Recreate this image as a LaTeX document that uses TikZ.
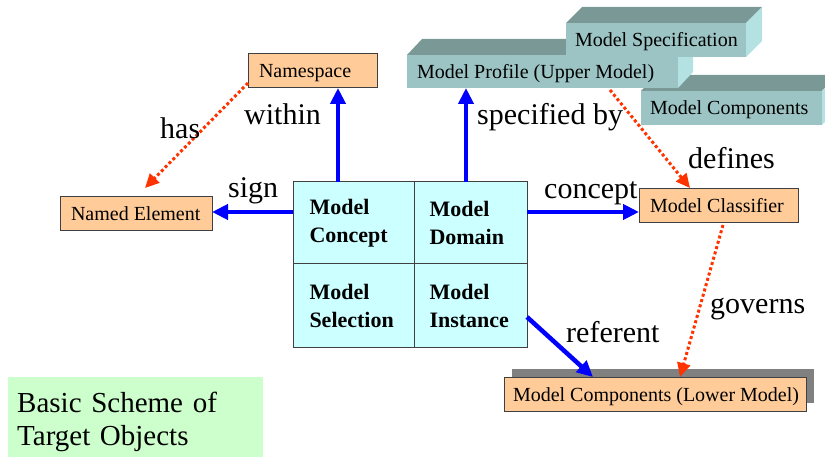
\documentclass[tikz,border=0pt]{standalone}
\usepackage{fontspec}
\setmainfont{Liberation Serif}
\usetikzlibrary{arrows.meta,shadows}

\definecolor{peach}{RGB}{255,204,153}
\definecolor{cellcyan}{RGB}{204,255,255}
\definecolor{mint}{RGB}{204,255,204}
\definecolor{slabfront}{RGB}{156,196,196}
\definecolor{slabtop}{RGB}{122,153,150}
\definecolor{slabside}{RGB}{180,226,226}
\definecolor{linkred}{RGB}{255,51,0}
\definecolor{linkblue}{RGB}{0,0,255}
\definecolor{shadowgray}{RGB}{128,128,128}
\definecolor{edgegray}{RGB}{64,64,64}

\tikzset{
  obox/.style={draw=edgegray, line width=1pt, fill=peach, outer sep=0pt,
    font=\fontsize{20}{24}\selectfont, inner ysep=0pt, anchor=north west,
    text height=14pt, text depth=0pt, minimum height=34pt},
  slab/.style={fill=slabfront, outer sep=0pt, inner xsep=9pt, inner ysep=0pt,
    font=\fontsize{20}{24}\selectfont, anchor=north west,
    text height=14pt, text depth=0pt},
  cell/.style={draw=edgegray, line width=1pt, fill=cellcyan, outer sep=0pt,
    font=\fontsize{22}{28}\selectfont\bfseries, align=left, anchor=north west,
    inner ysep=0pt},
  lbl/.style={font=\fontsize{30}{36}\selectfont, anchor=base west, inner sep=0pt},
  barrow/.style={draw=linkblue, line width=4.5pt,
    -{Triangle[length=16pt,width=15pt]}},
  rarrow/.style={draw=linkred, line width=3pt, dash pattern=on 3pt off 2.5pt,
    -{Triangle[length=14pt,width=13pt]}}
}

\begin{document}
\begin{tikzpicture}[x=1pt,y=-1pt]
\useasboundingbox (0,0) rectangle (825,457);
\clip (0,0) rectangle (825,457);

% stacked model slabs (back to front)
\node[slab, minimum width=181pt, minimum height=34pt] (comp) at (641,91)
  {\makebox[163pt][l]{Model Components}};
\fill[slabtop] (comp.north west) -- ++(15,-16) -- ([shift={(15,-16)}]comp.north east) -- (comp.north east) -- cycle;
\fill[slabside] (comp.north east) -- ([shift={(15,-16)}]comp.north east) -- ([shift={(15,-16)}]comp.south east) -- (comp.south east) -- cycle;

\node[slab, inner xsep=10pt, minimum width=271pt, minimum height=33pt] (prof) at (407,55)
  {\makebox[251pt][l]{Model Profile (Upper Model)}};
\fill[slabtop] (prof.north west) -- ++(15,-16) -- ([shift={(15,-16)}]prof.north east) -- (prof.north east) -- cycle;
\fill[slabside] (prof.north east) -- ([shift={(15,-16)}]prof.north east) -- ([shift={(15,-16)}]prof.south east) -- (prof.south east) -- cycle;

\node[slab, minimum width=180pt, minimum height=34pt] (spec) at (566,23)
  {\makebox[162pt][l]{Model Specification}};
\fill[slabtop] (spec.north west) -- ++(16,-16) -- ([shift={(16,-16)}]spec.north east) -- (spec.north east) -- cycle;
\fill[slabside] (spec.north east) -- ([shift={(16,-16)}]spec.north east) -- ([shift={(16,-16)}]spec.south east) -- (spec.south east) -- cycle;

% labelled boxes
\node[obox, inner xsep=11pt, minimum width=129pt] (ns) at (248,54)
  {\makebox[107pt][l]{Namespace}};
\node[obox, inner xsep=11pt, minimum width=152pt] (ne) at (60,197)
  {\makebox[130pt][l]{Named Element}};
\node[obox, inner xsep=11pt, minimum width=159pt] (cls) at (639,189)
  {\makebox[137pt][l]{Model Classifier}};
\node[obox, inner xsep=9pt, minimum width=302pt,
  general shadow={fill=shadowgray, shadow xshift=8pt, shadow yshift=8pt}] (low) at (504,377)
  {\makebox[284pt][l]{Model Components (Lower Model)}};

% central four-cell block
\node[cell, inner xsep=16.5pt, text width=88pt, minimum height=82pt] (cc) at (293,182) {Model\\Concept};
\node[cell, inner xsep=15.5pt, text width=82pt, minimum height=82pt] (md) at (414,182) {Model\\Domain};
\node[cell, inner xsep=16.5pt, text width=88pt, minimum height=83pt] (ms) at (293,264) {Model\\Selection};
\node[cell, inner xsep=15.5pt, text width=82pt, minimum height=83pt] (mi) at (414,264) {Model\\Instance};

% caption box
\node[fill=mint, anchor=north west, minimum width=255pt, minimum height=89pt,
  inner xsep=9pt, inner ysep=0pt, text width=237pt, align=left,
  font=\fontsize{29}{33}\selectfont] (cap) at (8,377) {Basic Scheme of\\Target Objects};

% solid relations
\draw[barrow] ([xshift=-15.5pt]cc.north) -- ([xshift=25.5pt]ns.south);
\draw[barrow] ([xshift=-4.5pt]md.north) -- ([xshift=-76.5pt]prof.south);
\draw[barrow] ([yshift=11pt]cc.west) -- ([yshift=2pt]ne.east);
\draw[barrow] ([yshift=11pt]md.east) -- ([yshift=-6pt]cls.west);
\draw[barrow] ([yshift=-11.5pt]mi.east) -- ([xshift=-62pt]low.north);

% dotted relations
\draw[rarrow] ([yshift=5pt]ns.south west) -- ([xshift=9pt,yshift=9pt]ne.north);
\draw[rarrow] ([xshift=67.5pt,yshift=-2pt]prof.south) -- ([xshift=-28.5pt,yshift=1pt]cls.north);
\draw[rarrow] ([xshift=4.5pt,yshift=-2pt]cls.south) -- ([xshift=25pt]low.north);

% relation labels
\node[lbl] (lhas) at (160,139) {has};
\node[lbl] (lwithin) at (244,125) {within};
\node[lbl] (lsign) at (228,198) {sign};
\node[lbl] (lspec) at (477,125) {specified by};
\node[lbl] (lconcept) at (544,199) {concept};
\node[lbl] (ldefines) at (688,169) {defines};
\node[lbl] (lgoverns) at (710,313) {governs};
\node[lbl] (lreferent) at (566,342) {referent};
\end{tikzpicture}
\end{document}
